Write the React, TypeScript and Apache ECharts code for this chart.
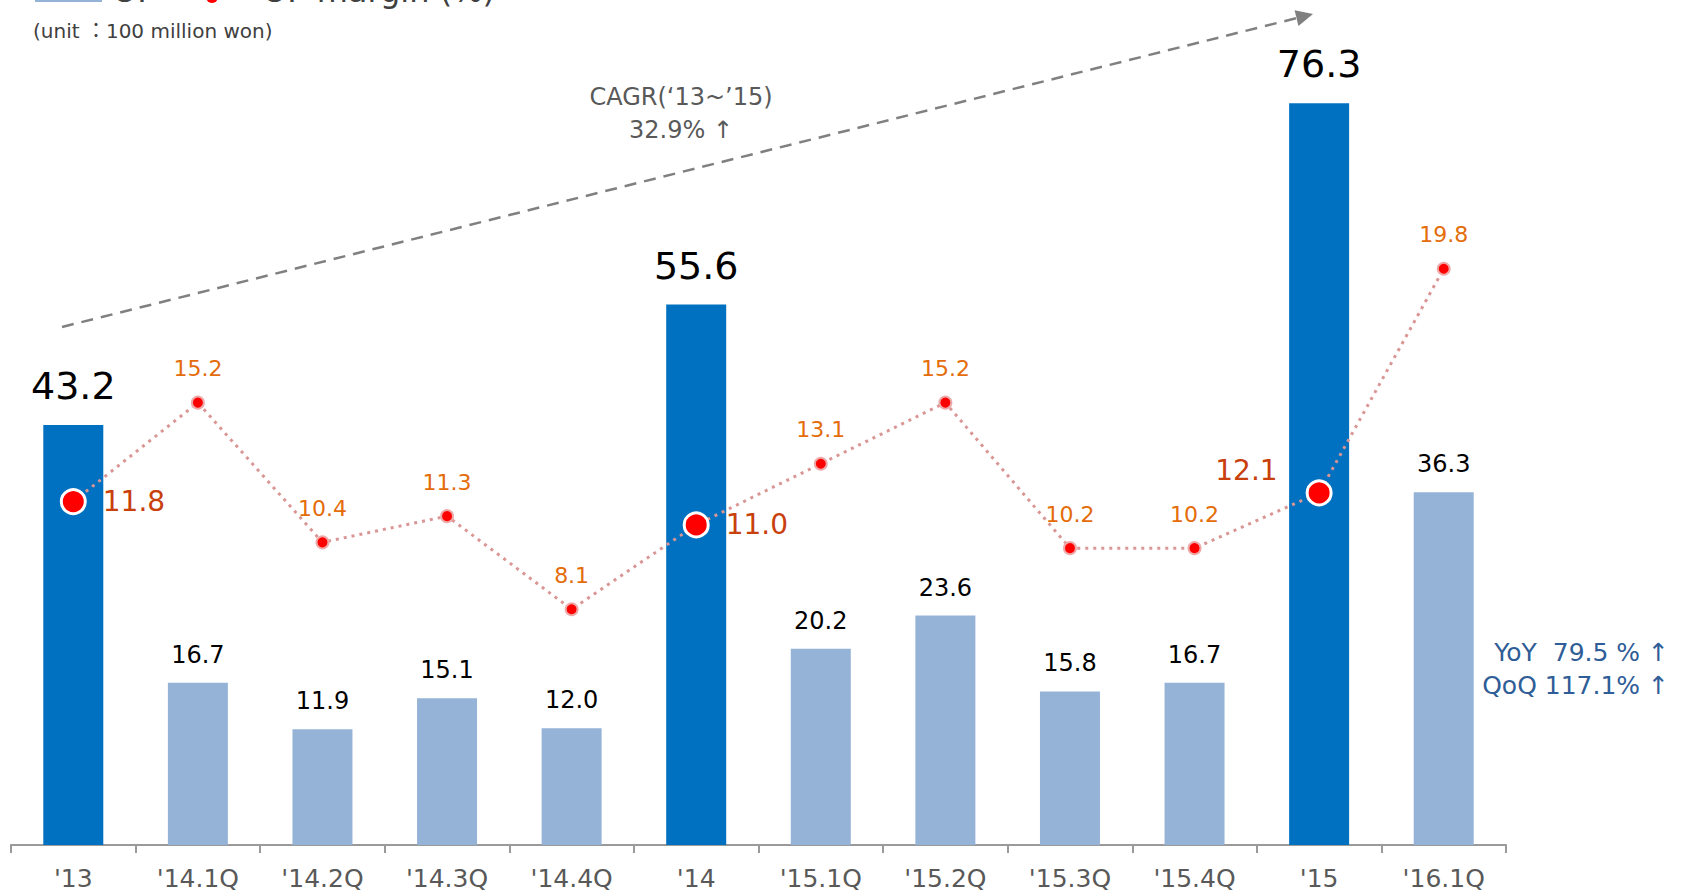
import React, { useEffect, useRef } from "react";
import * as echarts from "echarts";

const categories = ["'13", "'14.1Q", "'14.2Q", "'14.3Q", "'14.4Q", "'14", "'15.1Q", "'15.2Q", "'15.3Q", "'15.4Q", "'15", "'16.1Q"];
const opValues = [43.2, 16.7, 11.9, 15.1, 12.0, 55.6, 20.2, 23.6, 15.8, 16.7, 76.3, 36.3];
const marginValues = [11.8, 15.2, 10.4, 11.3, 8.1, 11.0, 13.1, 15.2, 10.2, 10.2, 12.1, 19.8];
const isAnnual = [true, false, false, false, false, true, false, false, false, false, true, false];

const FONT = "'DejaVu Sans', 'Noto Sans CJK KR', sans-serif";

export default function App() {
  const ref = useRef<HTMLDivElement>(null);
  useEffect(() => {
    document.body.style.margin = "0";
    const chart = echarts.init(ref.current!, null, { renderer: "svg" });

    const barData = opValues.map((v, i) => ({
      value: v,
      itemStyle: { color: isAnnual[i] ? "#0070c0" : "#95b3d7" },
      label: isAnnual[i]
        ? { fontSize: 38, distance: 20 }
        : { fontSize: 24, distance: 16 },
    }));

    const lineData = marginValues.map((v, i) => {
      if (isAnnual[i]) {
        const lbl: any = {
          position: "right",
          distance: 16,
          fontSize: 28,
          color: "#c8400c",
        };
        if (i === 10) {
          lbl.position = "left";
          lbl.distance = 28;
          lbl.offset = [0, -22];
        }
        return {
          value: v,
          symbolSize: 24,
          itemStyle: { color: "#ff0000", borderColor: "#ffffff", borderWidth: 3 },
          label: lbl,
        };
      }
      return { value: v };
    });

    // arrow geometry
    const x0 = 62, y0 = 327, x1 = 1313, y1 = 14;
    const dx = x1 - x0, dy = y1 - y0;
    const len = Math.sqrt(dx * dx + dy * dy);
    const ux = dx / len, uy = dy / len;
    const hl = 17, hw = 8;
    const bx = x1 - ux * hl, by = y1 - uy * hl;
    const px = -uy, py = ux;

    chart.setOption({
      animation: false,
      textStyle: { fontFamily: FONT },
      grid: { left: 11, right: 182, top: 67.4, bottom: 49 },
      xAxis: {
        type: "category",
        data: categories,
        boundaryGap: true,
        axisLine: { lineStyle: { color: "#9a9a9a", width: 2 } },
        axisTick: { show: true, length: 8, lineStyle: { color: "#9a9a9a", width: 2 } },
        axisLabel: { fontSize: 25, color: "#595959", margin: 21, fontFamily: FONT },
      },
      yAxis: [
        { type: "value", min: 0, max: 80, show: false, splitLine: { show: false } },
        { type: "value", min: 0, max: 26.72, show: false, splitLine: { show: false } },
      ],
      series: [
        {
          name: "OP",
          type: "bar",
          data: barData,
          barWidth: 60,
          yAxisIndex: 0,
          label: {
            show: true,
            position: "top",
            color: "#000000",
            fontFamily: FONT,
            formatter: (p: any) => Number(p.value).toFixed(1),
          },
        },
        {
          name: "OP margin (%)",
          type: "line",
          yAxisIndex: 1,
          data: lineData,
          z: 5,
          symbol: "circle",
          symbolSize: 12,
          itemStyle: { color: "#ff0000", borderColor: "#eeaaaa", borderWidth: 2 },
          lineStyle: { color: "#d99694", width: 3, type: [3, 5] },
          label: {
            show: true,
            position: "top",
            distance: 16,
            color: "#e46c0a",
            fontSize: 22,
            fontFamily: FONT,
            formatter: (p: any) => Number(p.value).toFixed(1),
          },
        },
      ],
      graphic: [
        // cut-off legend at top
        { type: "rect", shape: { x: 35, y: -8, width: 67, height: 10 }, style: { fill: "#95b3d7" } },
        { type: "text", x: 112, y: 7, style: { text: "OP", fontSize: 32, fill: "#404040", fontFamily: FONT, textVerticalAlign: "bottom" } },
        { type: "line", shape: { x1: 175, y1: -4, x2: 250, y2: -4 }, style: { stroke: "#d99694", lineWidth: 3, lineDash: [3, 5] } },
        { type: "circle", shape: { cx: 212, cy: -3, r: 6 }, style: { fill: "#ff0000" } },
        { type: "text", x: 262, y: 7, style: { text: "OP margin (%)", fontSize: 32, fill: "#404040", fontFamily: FONT, textVerticalAlign: "bottom" } },
        { type: "text", x: 33, y: 31, style: { text: "(unit ：100 million won)", fontSize: 20, fill: "#404040", fontFamily: FONT, textVerticalAlign: "middle" } },
        // CAGR arrow
        { type: "line", shape: { x1: x0, y1: y0, x2: bx, y2: by }, style: { stroke: "#808080", lineWidth: 2.5, lineDash: [12, 8] } },
        {
          type: "polygon",
          shape: { points: [[x1, y1], [bx + px * hw, by + py * hw], [bx - px * hw, by - py * hw]] },
          style: { fill: "#808080" },
        },
        { type: "text", x: 681, y: 97, style: { text: "CAGR(‘13~’15)", fontSize: 24, fill: "#595959", fontFamily: FONT, textAlign: "center", textVerticalAlign: "middle" } },
        { type: "text", x: 681, y: 130, style: { text: "32.9% ↑", fontSize: 24, fill: "#595959", fontFamily: FONT, textAlign: "center", textVerticalAlign: "middle" } },
        // YoY / QoQ
        { type: "text", x: 1669, y: 652, style: { text: "YoY  79.5 % ↑", fontSize: 25, fill: "#2f5d97", fontFamily: FONT, textAlign: "right", textVerticalAlign: "middle" } },
        { type: "text", x: 1669, y: 685, style: { text: "QoQ 117.1% ↑", fontSize: 25, fill: "#2f5d97", fontFamily: FONT, textAlign: "right", textVerticalAlign: "middle" } },
      ],
    });
    return () => chart.dispose();
  }, []);
  return <div ref={ref} style={{ width: 1688, height: 894 }} />;
}
